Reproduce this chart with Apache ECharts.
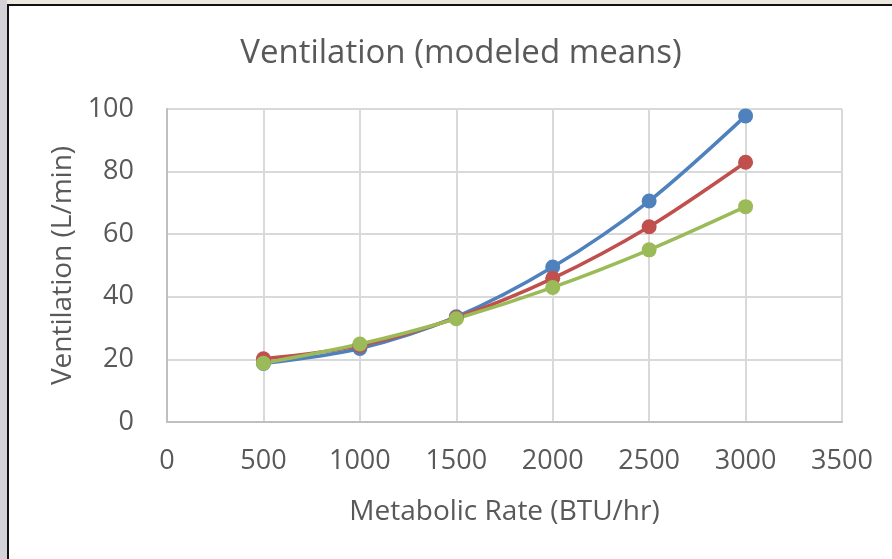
<!DOCTYPE html>
<html>
<head>
<meta charset="utf-8">
<script src="https://cdn.jsdelivr.net/npm/echarts@6/dist/echarts.min.js"></script>
<style>
  html, body { margin: 0; padding: 0; background: #fff; }
  .wrap { position: relative; width: 892px; height: 559px; overflow: hidden; }
  .top-band { position: absolute; left: 0; top: 0; width: 892px; height: 4px; background: #ece8e0; }
  .top-line { position: absolute; left: 7px; top: 4px; width: 885px; height: 2px; background: #111; }
  .left-strip { position: absolute; left: 0; top: 0; width: 7px; height: 559px; background: #d2d2d8; }
  .left-line { position: absolute; left: 7px; top: 4px; width: 2px; height: 555px; background: #111; }
  #chart { position: absolute; left: 0; top: 0; width: 892px; height: 559px; }
</style>
</head>
<body>
<div class="wrap">
  <div id="chart"></div>
  <div class="top-band"></div>
  <div class="left-strip"></div>
  <div class="top-line"></div>
  <div class="left-line"></div>
</div>
<script>
// metabolic rate (BTU/hr)
const rates = [500, 1000, 1500, 2000, 2500, 3000];
// modeled ventilation means (L/min)
const blueVals = [18.7, 23.5, 33.6, 49.5, 70.6, 97.8];
const redVals = [20.2, 24.4, 33.3, 45.9, 62.4, 83.0];
const greenVals = [18.8, 24.9, 33.0, 43.0, 55.0, 68.8];

const fontFam = "'Open Sans', 'Noto Sans', sans-serif";
const textColor = "#595959";

const chart = echarts.init(document.getElementById("chart"));

function mkSeries(vals, color) {
  return {
    type: "line",
    data: rates.map((r, i) => [r, vals[i]]),
    smooth: 0.3,
    symbol: "circle",
    symbolSize: 15,
    lineStyle: { color: color, width: 3.5 },
    itemStyle: { color: color },
    animation: false,
  };
}

chart.setOption({
  title: {
    text: "Ventilation (modeled means)",
    left: 456,
    textAlign: "center",
    top: 32,
    textStyle: { fontFamily: fontFam, fontSize: 33, fontWeight: "normal", color: textColor },
  },
  grid: { left: 167, right: 50, top: 109, bottom: 137 },
  xAxis: {
    type: "value",
    min: 0,
    max: 3500,
    interval: 500,
    name: "Metabolic Rate (BTU/hr)",
    nameLocation: "middle",
    nameGap: 76,
    nameTextStyle: { fontFamily: fontFam, fontSize: 28, color: textColor },
    axisLine: { show: true, lineStyle: { color: "#bfbfbf", width: 2 } },
    axisTick: { show: false },
    axisLabel: {
      fontFamily: fontFam, fontSize: 27, color: textColor, margin: 26,
      formatter: (v) => String(v),
    },
    splitLine: { show: true, lineStyle: { color: "#d9d9d9", width: 2 } },
  },
  yAxis: {
    type: "value",
    min: 0,
    max: 100,
    interval: 20,
    name: "Ventilation (L/min)",
    nameLocation: "middle",
    nameGap: 90,
    nameTextStyle: { fontFamily: fontFam, fontSize: 28, color: textColor },
    axisLine: { show: true, lineStyle: { color: "#bfbfbf", width: 2 } },
    axisTick: { show: false },
    axisLabel: { fontFamily: fontFam, fontSize: 27, color: textColor, margin: 33 },
    splitLine: { show: true, lineStyle: { color: "#d9d9d9", width: 2 } },
  },
  series: [
    mkSeries(blueVals, "#4f81bd"),
    mkSeries(redVals, "#c0504d"),
    mkSeries(greenVals, "#9bbb59"),
  ],
});
</script>
</body>
</html>
